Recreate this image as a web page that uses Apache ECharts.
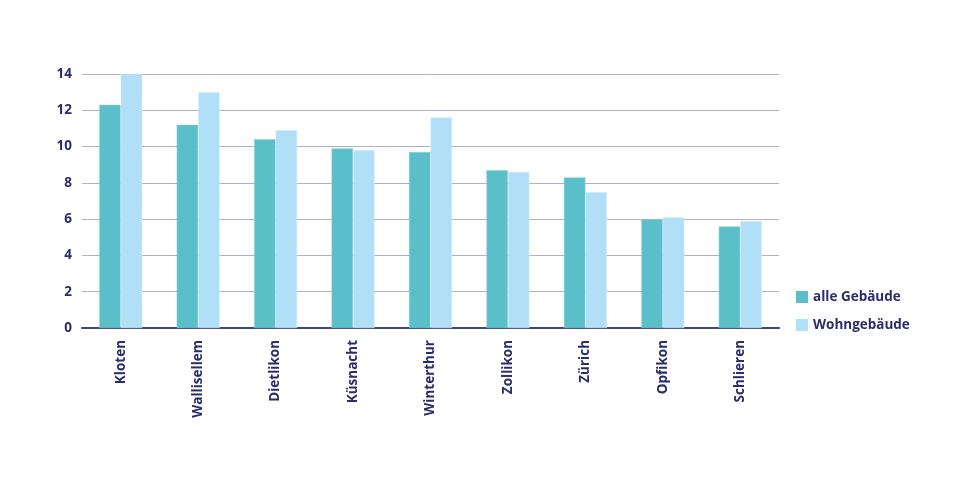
<!DOCTYPE html>
<html><head><meta charset="utf-8">
<script src="https://cdn.jsdelivr.net/npm/echarts@6/dist/echarts.min.js"></script>
<style>html,body{margin:0;padding:0;background:#fff}#c{width:960px;height:487px}</style>
</head><body><div id="c"></div>
<script>
const categories = ["Kloten","Wallisellem","Dietlikon","Küsnacht","Winterthur","Zollikon","Zürich","Opfikon","Schlieren"];
const alleGebaeude = [12.3,11.2,10.4,9.9,9.7,8.7,8.3,6.0,5.6];
const wohngebaeude = [14.0,13.0,10.9,9.8,11.6,8.6,7.5,6.1,5.9];
const seriesNames = ["alle Gebäude","Wohngebäude"];
const navy = "#2A2D6B";
const chart = echarts.init(document.getElementById('c'), null, {renderer:'canvas'});
chart.setOption({
  animation:false,
  textStyle:{fontFamily:"Open Sans"},
  grid:{left:82,right:181,top:74,bottom:159},
  legend:{orient:'vertical',left:791,top:285,itemWidth:12,itemHeight:12,itemGap:14,
    icon:'rect',itemStyle:{borderWidth:0},
    textStyle:{color:navy,fontWeight:'bold',fontSize:13.5,fontFamily:"Open Sans"},
    data:seriesNames},
  xAxis:{type:'category',data:categories,
    axisLine:{lineStyle:{color:'#3E4585',width:2}},axisTick:{show:false},
    axisLabel:{rotate:90,color:navy,fontWeight:'bold',fontSize:13.5,margin:12,interval:0}},
  yAxis:{type:'value',min:0,max:14,interval:2,
    axisLine:{show:false},axisTick:{show:false},
    splitLine:{lineStyle:{color:'#AEB0CE',width:1}},
    axisLabel:{color:navy,fontWeight:'bold',fontSize:13.5,margin:10}},
  series:[
    {name:seriesNames[0],type:'bar',data:alleGebaeude,barWidth:21.5,barGap:'0%',
     itemStyle:{color:'#5BBFCA',borderColor:'#8FD3DA',borderWidth:0.5}},
    {name:seriesNames[1],type:'bar',data:wohngebaeude,barWidth:21.5,barGap:'0%',
     itemStyle:{color:'#B0DFF7',borderColor:'#D6EEFB',borderWidth:0.5}}
  ]
});
</script></body></html>
